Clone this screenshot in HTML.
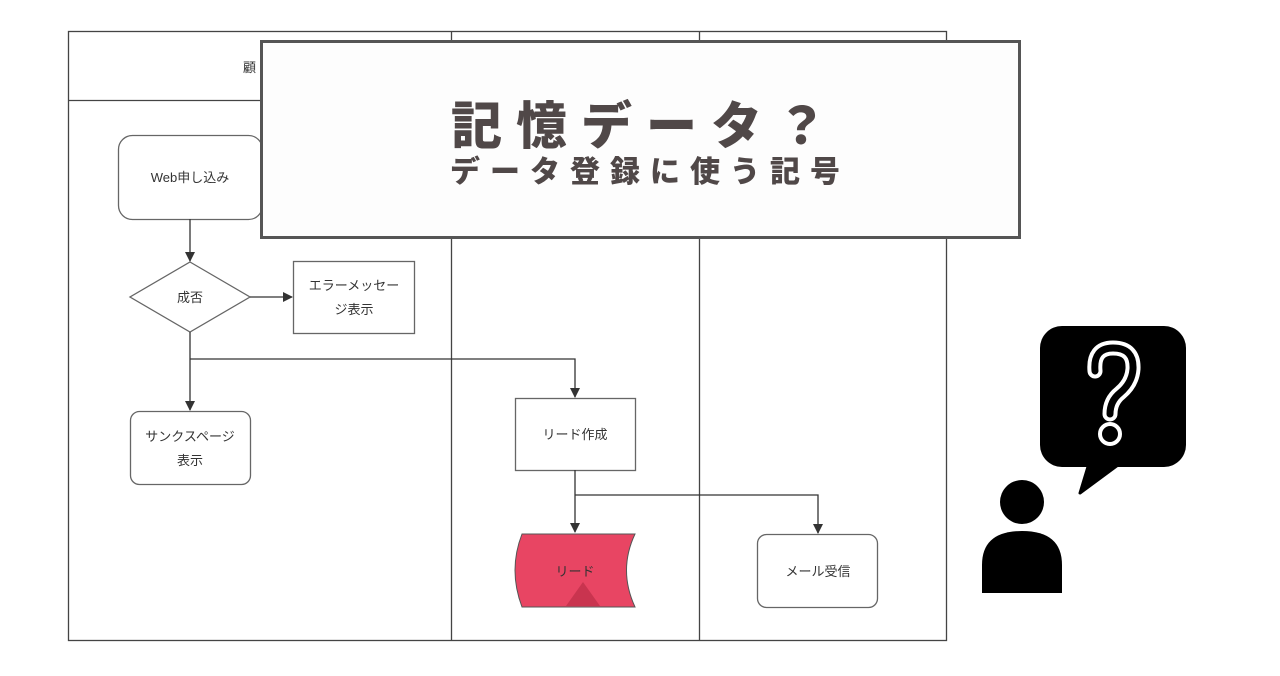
<!DOCTYPE html>
<html><head><meta charset="utf-8"><style>
body{margin:0;background:#fff;width:1280px;height:671px;overflow:hidden}
svg text{font-family:"Liberation Sans","Noto Sans CJK JP",sans-serif}
</style></head><body>
<svg width="1280" height="671" xmlns="http://www.w3.org/2000/svg">
<defs><marker id="a" markerWidth="10" markerHeight="10" refX="9" refY="5" orient="auto" markerUnits="userSpaceOnUse"><path d="M0,0 L10,5 L0,10z" fill="#333"/></marker></defs>
<g stroke="#444" stroke-width="1.3" fill="none">
<rect x="68.5" y="31.5" width="878" height="609"/>
<line x1="68" y1="100.5" x2="947" y2="100.5"/>
<line x1="451.5" y1="31" x2="451.5" y2="640"/>
<line x1="699.5" y1="31" x2="699.5" y2="640"/>
</g>
<text x="243" y="72" font-size="13" fill="#333">顧</text>
<g stroke="#666" stroke-width="1.3" fill="#fff">
<rect x="118.5" y="135.5" width="144" height="84" rx="14"/>
<path d="M190,262 L250,297 L190,332 L130,297z"/>
<rect x="293.5" y="261.5" width="121" height="72"/>
<rect x="130.5" y="411.5" width="120" height="73" rx="9"/>
<rect x="515.5" y="398.5" width="120" height="72"/>
<rect x="757.5" y="534.5" width="120" height="73" rx="9"/>
</g>
<path d="M522,534 L635,534 Q618,570 635,607 L522,607 Q508,570 522,534z" fill="#e84563" stroke="#555" stroke-width="1"/>
<path d="M583,582 L600,606 L566,606z" fill="#c9344f"/>
<g stroke="#333" stroke-width="1.3" fill="none">
<line x1="190" y1="219" x2="190" y2="261" marker-end="url(#a)"/>
<line x1="250" y1="297" x2="292" y2="297" marker-end="url(#a)"/>
<line x1="190" y1="332" x2="190" y2="410" marker-end="url(#a)"/>
<polyline points="190,359 575,359 575,397" marker-end="url(#a)"/>
<line x1="575" y1="470" x2="575" y2="532" marker-end="url(#a)"/>
<polyline points="575,495 818,495 818,533" marker-end="url(#a)"/>
</g>
<g font-size="13" fill="#333" text-anchor="middle">
<text x="190" y="182">Web申し込み</text>
<text x="190" y="302">成否</text>
<text x="354" y="290">エラーメッセー</text>
<text x="354" y="314">ジ表示</text>
<text x="190" y="441">サンクスページ</text>
<text x="190" y="465">表示</text>
<text x="575" y="439">リード作成</text>
<text x="575" y="576">リード</text>
<text x="818" y="576">メール受信</text>
</g>
<rect x="261.5" y="41.5" width="758" height="196" fill="#fdfdfd" stroke="#555" stroke-width="3"/>
<text x="646" y="144" font-size="51" fill="#504848" text-anchor="middle" letter-spacing="14" style="font-family:'Noto Sans CJK JP',sans-serif;font-weight:900">記憶データ？</text>
<text x="650" y="182" font-size="30" fill="#504848" text-anchor="middle" letter-spacing="10" style="font-family:'Noto Sans CJK JP',sans-serif;font-weight:900">データ登録に使う記号</text>
<rect x="1040" y="326" width="146" height="141" rx="22" fill="#000"/>
<path d="M1090,460 L1080,493 L1122,462z" fill="#000" stroke="#000" stroke-width="3" stroke-linejoin="round"/>
<path d="M1095,371 Q1093,348 1113,348 Q1134,348 1133,369 Q1132,383 1120,393 Q1110,401 1110,414" fill="none" stroke="#fff" stroke-width="15" stroke-linecap="round" stroke-linejoin="round"/>
<path d="M1095,371 Q1093,348 1113,348 Q1134,348 1133,369 Q1132,383 1120,393 Q1110,401 1110,414" fill="none" stroke="#000" stroke-width="7" stroke-linecap="round" stroke-linejoin="round"/>
<circle cx="1110" cy="434" r="10" fill="#000" stroke="#fff" stroke-width="4"/>
<circle cx="1022" cy="502" r="22" fill="#000"/>
<path d="M982,593 L982,565 Q982,531 1022,531 Q1062,531 1062,565 L1062,593z" fill="#000"/>
</svg>
</body></html>
